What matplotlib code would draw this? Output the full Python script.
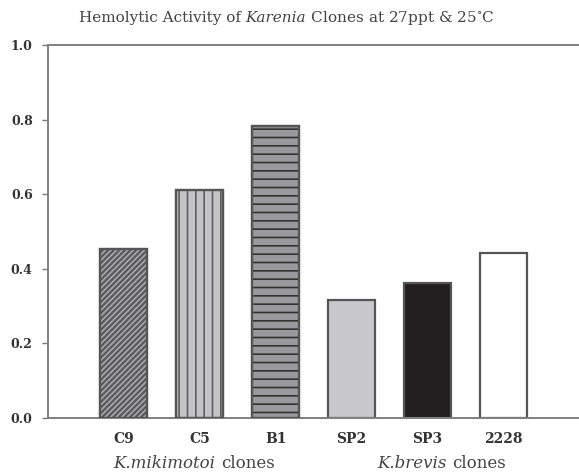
import matplotlib
matplotlib.use("Agg")
import matplotlib.pyplot as plt
import numpy as np

# data
clones = ["C9", "C5", "B1", "SP2", "SP3", "2228"]
activity = [0.452, 0.612, 0.782, 0.316, 0.362, 0.442]
groups = ["K.mikimotoi", "K.brevis"]
group_split = [1.28, 4.33]   # where the italic name ends, in bar units
yticks = [0.0, 0.2, 0.4, 0.6, 0.8, 1.0]

face = ["#5a5a5c", "#c4c4c8", "#9a9a9e", "#c8c8cc", "#231f20", "#ffffff"]
hatch = ["//////", "||", "--", None, None, None]
hatch_col = ["#a8a8ac", "#606060", "#333333", None, None, None]

plt.rcParams["font.family"] = ["DejaVu Serif"]
plt.rcParams["mathtext.fontset"] = "dejavuserif"
plt.rcParams["hatch.linewidth"] = 1.2

fig = plt.figure(figsize=(5.79, 4.73), dpi=100)
ax = fig.add_axes([48 / 579, 1 - 418 / 473, 531 / 579, 373 / 473])

x = np.arange(len(clones))
for i in range(len(clones)):
    ax.bar(x[i], activity[i], width=0.62, color=face[i],
           edgecolor="#555555", linewidth=1.6, zorder=2)
    if hatch[i]:
        ax.bar(x[i], activity[i], width=0.62, color="none",
               edgecolor=hatch_col[i], hatch=hatch[i], linewidth=0, zorder=3)
        ax.bar(x[i], activity[i], width=0.62, color="none",
               edgecolor="#555555", linewidth=1.6, zorder=4)

ax.set_xlim(-1, 6)
ax.set_ylim(0, 1.0)
ax.set_yticks(yticks)
ax.set_yticklabels([f"{v:.1f}" for v in yticks], fontweight="bold",
                   fontsize=9, color="#333333")
ax.set_xticks(x)
ax.set_xticklabels(clones, fontweight="bold", fontsize=10, color="#333333")
ax.tick_params(axis="x", length=0, pad=10)
ax.tick_params(axis="y", direction="out", length=4, width=1, color="#777777", pad=7)

for s in ["left", "top", "bottom"]:
    ax.spines[s].set_color("#808080")
    ax.spines[s].set_linewidth(1.4)
ax.spines["right"].set_visible(False)

# group labels under the clone names: italic genus name + plain "clones"
for g, c in zip(groups, group_split):
    ax.text(c, -0.122, g + " ", ha="right", va="center", fontsize=12,
            style="italic", color="#444444")
    ax.text(c, -0.122, "clones", ha="left", va="center", fontsize=12,
            color="#444444")

split = 0.424
fig.text(split, 0.963, "Hemolytic Activity of ", ha="right", va="center",
         fontsize=11, color="#444444")
t = fig.text(split, 0.963, "Karenia", ha="left", va="center", fontsize=11,
             style="italic", color="#444444")
fig.canvas.draw()
bb = t.get_window_extent()
fig.text(bb.x1 / fig.bbox.width, 0.963, " Clones at 27ppt & 25$^{\\circ}$C",
         ha="left", va="center", fontsize=11, color="#444444")

fig.savefig("out.png", dpi=100)
